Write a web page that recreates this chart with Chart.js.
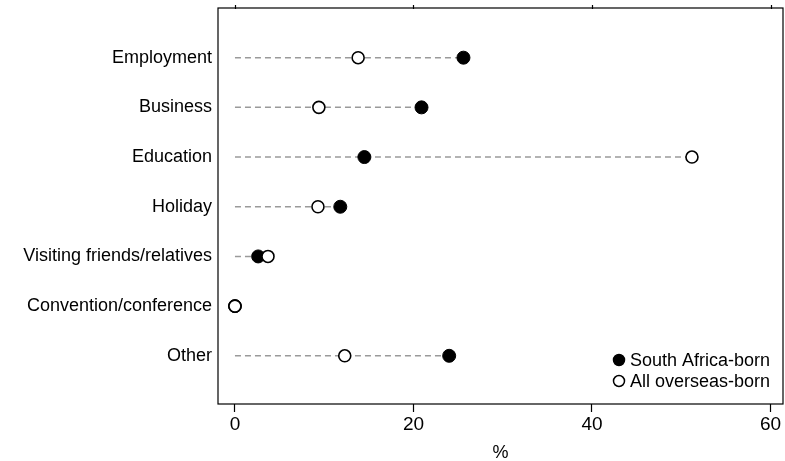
<!DOCTYPE html>
<html>
<head>
<meta charset="utf-8">
<script src="https://cdn.jsdelivr.net/npm/chart.js@4"></script>
<style>
  html, body { margin: 0; padding: 0; background: #fff; }
  #wrap { width: 785px; height: 461px; }
</style>
</head>
<body>
<div id="wrap"><canvas id="c" width="785" height="461"></canvas></div>
<script>
// Reasons for travel, % of departures
const categories = ['Employment', 'Business', 'Education', 'Holiday',
  'Visiting friends/relatives', 'Convention/conference', 'Other'];
const southAfricaBorn = [25.6, 20.9, 14.5, 11.8, 2.6, 0.0, 24.0];
const allOverseasBorn = [13.8, 9.4, 51.2, 9.3, 3.7, 0.0, 12.3];
const xTicks = [0, 20, 40, 60];
const seriesNames = ['South Africa-born', 'All overseas-born'];

const FONT = 'Liberation Sans, Arial, sans-serif';

// Dashed guide from zero to the larger of the two values on each row
const guideSets = categories.map((c, i) => ({
  type: 'line',
  label: 'guide-' + i,
  data: [{ x: 0, y: i }, { x: Math.max(southAfricaBorn[i], allOverseasBorn[i]), y: i }],
  borderColor: '#9a9a9a',
  borderWidth: 1.5,
  borderDash: [6, 4],
  pointRadius: 0,
  order: 10,
  showLine: true
}));

// drop the automatic edge padding Chart.js reserves for tick labels
function noEdgePadding(s) {
  s.paddingTop = 0; s.paddingBottom = 0; s.paddingLeft = 0; s.paddingRight = 0;
}

const frame = {
  id: 'frame',
  afterDraw(chart) {
    const { ctx, chartArea: a } = chart;
    ctx.save();
    ctx.strokeStyle = '#000';
    ctx.lineWidth = 1.2;
    ctx.strokeRect(a.left, a.top, a.right - a.left, a.bottom - a.top);
    // small ticks along the top edge
    const xs = chart.scales.x;
    xTicks.forEach(v => {
      const px = Math.round(xs.getPixelForValue(v)) + 0.5;
      ctx.beginPath();
      ctx.moveTo(px, a.top - 3);
      ctx.lineTo(px, a.top + 1);
      ctx.stroke();
    });
    // legend inside the plot, lower right
    const items = [
      { name: seriesNames[0], fill: '#000' },
      { name: seriesNames[1], fill: '#fff' }
    ];
    ctx.font = '18px ' + FONT;
    ctx.textBaseline = 'middle';
    items.forEach((it, k) => {
      const cy = a.bottom - 44 + k * 21;
      const cx = a.right - 164;
      ctx.beginPath();
      ctx.arc(cx, cy, 5.5, 0, Math.PI * 2);
      ctx.fillStyle = it.fill;
      ctx.fill();
      ctx.lineWidth = 1.5;
      ctx.strokeStyle = '#000';
      ctx.stroke();
      ctx.fillStyle = '#000';
      ctx.fillText(it.name, cx + 11, cy + 1);
    });
    ctx.restore();
  }
};

new Chart(document.getElementById('c'), {
  type: 'scatter',
  data: {
    datasets: [
      {
        label: seriesNames[1],
        data: allOverseasBorn.map((v, i) => ({ x: v, y: i })),
        pointRadius: 6,
        pointBackgroundColor: '#fff',
        pointBorderColor: '#000',
        pointBorderWidth: 1.6,
        order: 0
      },
      {
        label: seriesNames[0],
        data: southAfricaBorn.map((v, i) => ({ x: v, y: i })),
        pointRadius: 6.5,
        pointBackgroundColor: '#000',
        pointBorderColor: '#000',
        pointBorderWidth: 1,
        order: 1
      },
      ...guideSets
    ]
  },
  options: {
    responsive: false,
    animation: false,
    layout: { autoPadding: false, padding: { top: 8, right: 2, left: 0, bottom: 0 } },
    plugins: { legend: { display: false }, tooltip: { enabled: false } },
    scales: {
      x: {
        type: 'linear',
        min: -1.9,
        max: 61.4,
        afterBuildTicks(s) { s.ticks = xTicks.map(v => ({ value: v })); },
        afterFit(s) { s.height = 57; noEdgePadding(s); },
        ticks: { color: '#000', font: { family: FONT, size: 19 }, padding: 1, maxRotation: 0 },
        grid: { drawOnChartArea: false, drawTicks: true, tickLength: 8, color: '#000', tickColor: '#000', tickWidth: 1.2 },
        border: { display: false },
        title: { display: true, text: '%', color: '#000', font: { family: FONT, size: 18 }, padding: { top: 8, bottom: -3 } }
      },
      y: {
        type: 'linear',
        min: -1,
        max: 6.97,
        reverse: true,
        afterBuildTicks(s) { s.ticks = categories.map((c, i) => ({ value: i })); },
        afterFit(s) { s.width = 218; noEdgePadding(s); },
        ticks: {
          color: '#000',
          font: { family: FONT, size: 18 },
          padding: 6,
          callback: v => categories[v]
        },
        grid: { drawOnChartArea: false, drawTicks: false },
        border: { display: false }
      }
    }
  },
  plugins: [frame]
});
</script>
</body>
</html>
